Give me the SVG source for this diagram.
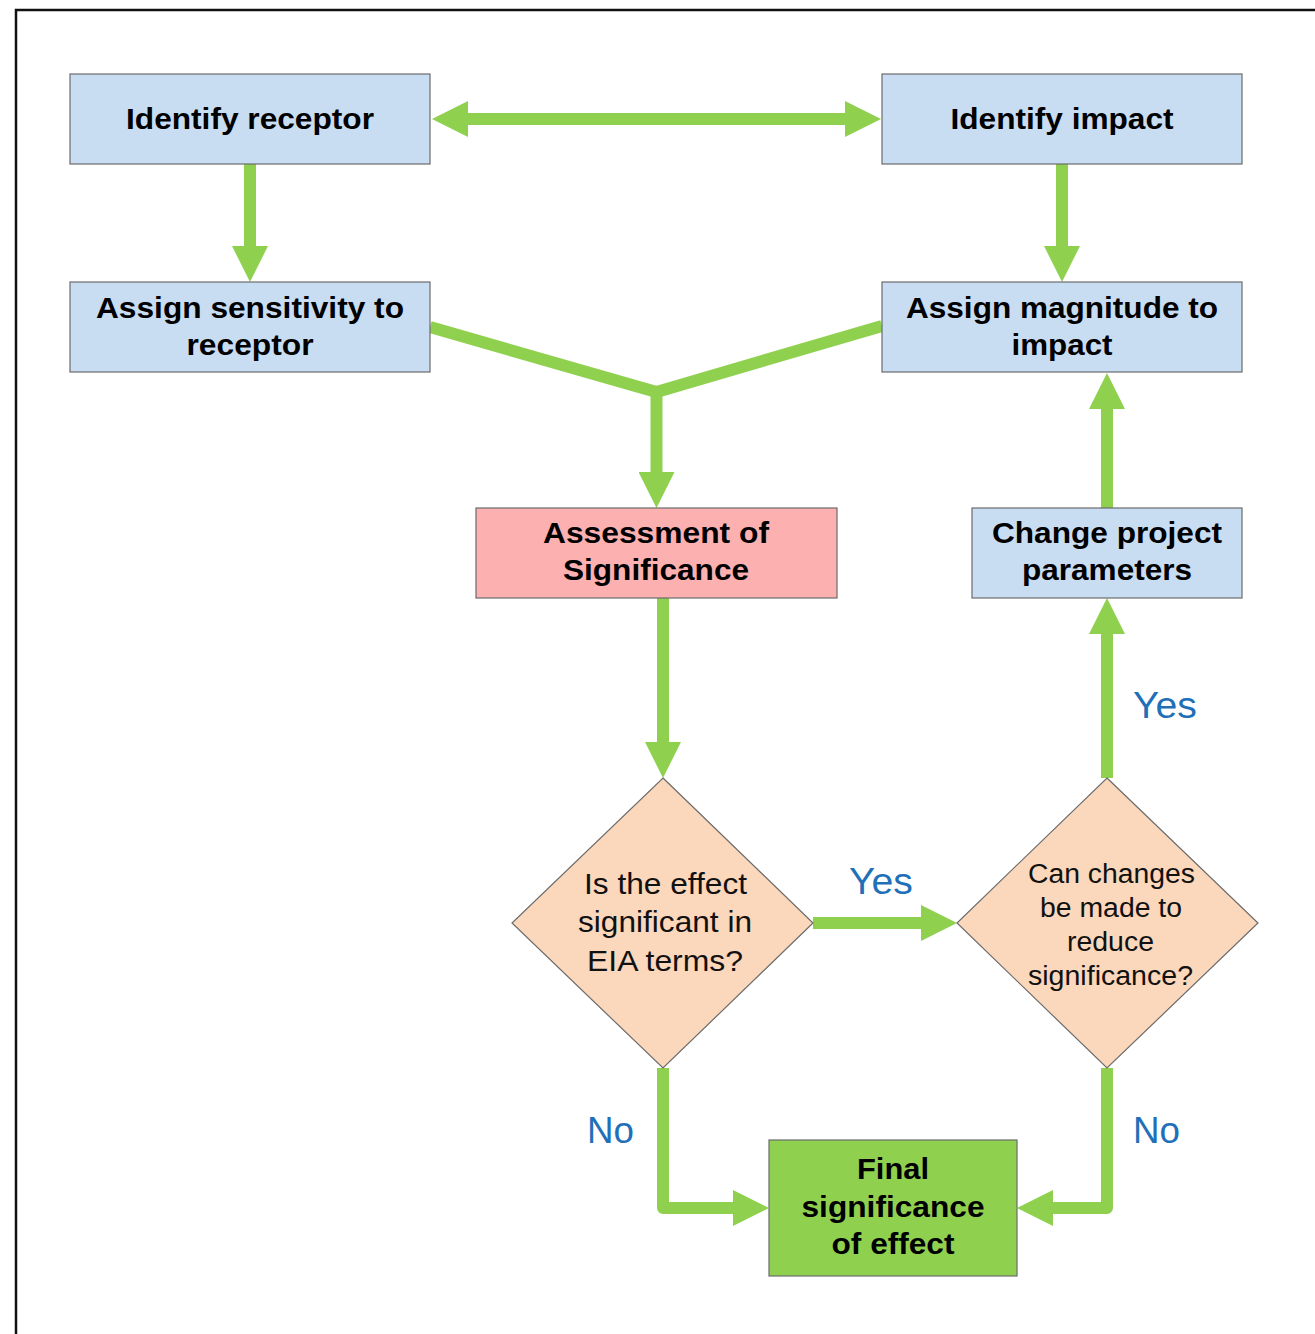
<svg xmlns="http://www.w3.org/2000/svg" width="1315" height="1334" viewBox="0 0 1315 1334">
<defs>
<marker id="ah" markerUnits="userSpaceOnUse" markerWidth="36" markerHeight="36" refX="0" refY="18" orient="auto-start-reverse" viewBox="0 0 36 36">
<path d="M0,0 L36,18 L0,36 Z" fill="#8fd14f"/>
</marker>
<style>
.box{stroke:#6b6b6b;stroke-width:1.2}
.blue{fill:#c8dcf2}
.pink{fill:#fcb0b0}
.peach{fill:#fbd7bb}
.green{fill:#8fd14f}
.b{font-family:"Liberation Sans",Arial,sans-serif;font-weight:bold;font-size:29px;fill:#000;text-anchor:middle}
.r{font-family:"Liberation Sans",Arial,sans-serif;font-size:30px;fill:#111;text-anchor:middle}
.r2{font-family:"Liberation Sans",Arial,sans-serif;font-size:27px;fill:#111;text-anchor:middle}
.lbl{font-family:"Liberation Sans",Arial,sans-serif;font-size:37px;fill:#1f70b8;text-anchor:middle}
.c{fill:none;stroke:#8fd14f;stroke-width:12;stroke-linecap:butt}
.ce{marker-end:url(#ah)}
</style>
</defs>
<rect width="1315" height="1334" fill="#fff"/>
<path d="M16,1334 V10 H1315" fill="none" stroke="#111" stroke-width="2.5"/>

<g id="connectors">
<path class="c" d="M468,119 H845" style="marker-start:url(#ah);marker-end:url(#ah)"/>
<path class="c ce" d="M250,164 V246"/>
<path class="c ce" d="M1062,164 V246"/>
<path class="c" d="M430,327 L656.5,392 L882,326" stroke-linejoin="miter"/>
<path class="c ce" d="M656.5,392 V472"/>
<path class="c ce" d="M663,598 V742"/>
<path class="c ce" d="M813,923 H921"/>
<path class="c ce" d="M1107,778 V634"/>
<path class="c ce" d="M1107,508 V409"/>
<path class="c ce" d="M663,1068 V1208 H733" stroke-linejoin="round"/>
<path class="c ce" d="M1107,1068 V1208 H1053" stroke-linejoin="round"/>
</g>

<g id="identify-receptor">
<rect class="box blue" x="70" y="74" width="360" height="90"/>
<text class="b" x="250" y="129" textLength="248" lengthAdjust="spacingAndGlyphs">Identify receptor</text>
</g>
<g id="identify-impact">
<rect class="box blue" x="882" y="74" width="360" height="90"/>
<text class="b" x="1062" y="129" textLength="223" lengthAdjust="spacingAndGlyphs">Identify impact</text>
</g>
<g id="assign-sensitivity">
<rect class="box blue" x="70" y="282" width="360" height="90"/>
<text class="b" x="250" y="318" textLength="308" lengthAdjust="spacingAndGlyphs">Assign sensitivity to</text>
<text class="b" x="250" y="355" textLength="127" lengthAdjust="spacingAndGlyphs">receptor</text>
</g>
<g id="assign-magnitude">
<rect class="box blue" x="882" y="282" width="360" height="90"/>
<text class="b" x="1062" y="318" textLength="312" lengthAdjust="spacingAndGlyphs">Assign magnitude to</text>
<text class="b" x="1062" y="355" textLength="101" lengthAdjust="spacingAndGlyphs">impact</text>
</g>
<g id="assessment">
<rect class="box pink" x="476" y="508" width="361" height="90"/>
<text class="b" x="656" y="543" textLength="226" lengthAdjust="spacingAndGlyphs">Assessment of</text>
<text class="b" x="656" y="580" textLength="186" lengthAdjust="spacingAndGlyphs">Significance</text>
</g>
<g id="change-params">
<rect class="box blue" x="972" y="508" width="270" height="90"/>
<text class="b" x="1107" y="543" textLength="230" lengthAdjust="spacingAndGlyphs">Change project</text>
<text class="b" x="1107" y="580" textLength="170" lengthAdjust="spacingAndGlyphs">parameters</text>
</g>
<g id="decision-significant">
<polygon class="box peach" points="663,778 813,923 663,1068 512,923"/>
<text class="r" x="665.5" y="894" textLength="163" lengthAdjust="spacingAndGlyphs">Is the effect</text>
<text class="r" x="665" y="932" textLength="174" lengthAdjust="spacingAndGlyphs">significant in</text>
<text class="r" x="665" y="971" textLength="156" lengthAdjust="spacingAndGlyphs">EIA terms?</text>
</g>
<g id="decision-changes">
<polygon class="box peach" points="1107,778 1258,923 1107,1068 957,923"/>
<text class="r2" x="1111.5" y="883" textLength="167" lengthAdjust="spacingAndGlyphs">Can changes</text>
<text class="r2" x="1111" y="917" textLength="142" lengthAdjust="spacingAndGlyphs">be made to</text>
<text class="r2" x="1110.5" y="951" textLength="87" lengthAdjust="spacingAndGlyphs">reduce</text>
<text class="r2" x="1110.5" y="985" textLength="165" lengthAdjust="spacingAndGlyphs">significance?</text>
</g>
<g id="final">
<rect class="box green" x="769" y="1140" width="248" height="136"/>
<text class="b" x="893" y="1179" textLength="72" lengthAdjust="spacingAndGlyphs">Final</text>
<text class="b" x="893" y="1217" textLength="183" lengthAdjust="spacingAndGlyphs">significance</text>
<text class="b" x="893" y="1254" textLength="123" lengthAdjust="spacingAndGlyphs">of effect</text>
</g>

<g id="labels">
<text class="lbl" x="881" y="894" textLength="64" lengthAdjust="spacingAndGlyphs">Yes</text>
<text class="lbl" x="1165" y="718" textLength="64" lengthAdjust="spacingAndGlyphs">Yes</text>
<text class="lbl" x="610.5" y="1143" textLength="47" lengthAdjust="spacingAndGlyphs">No</text>
<text class="lbl" x="1156.5" y="1143" textLength="47" lengthAdjust="spacingAndGlyphs">No</text>
</g>
</svg>
